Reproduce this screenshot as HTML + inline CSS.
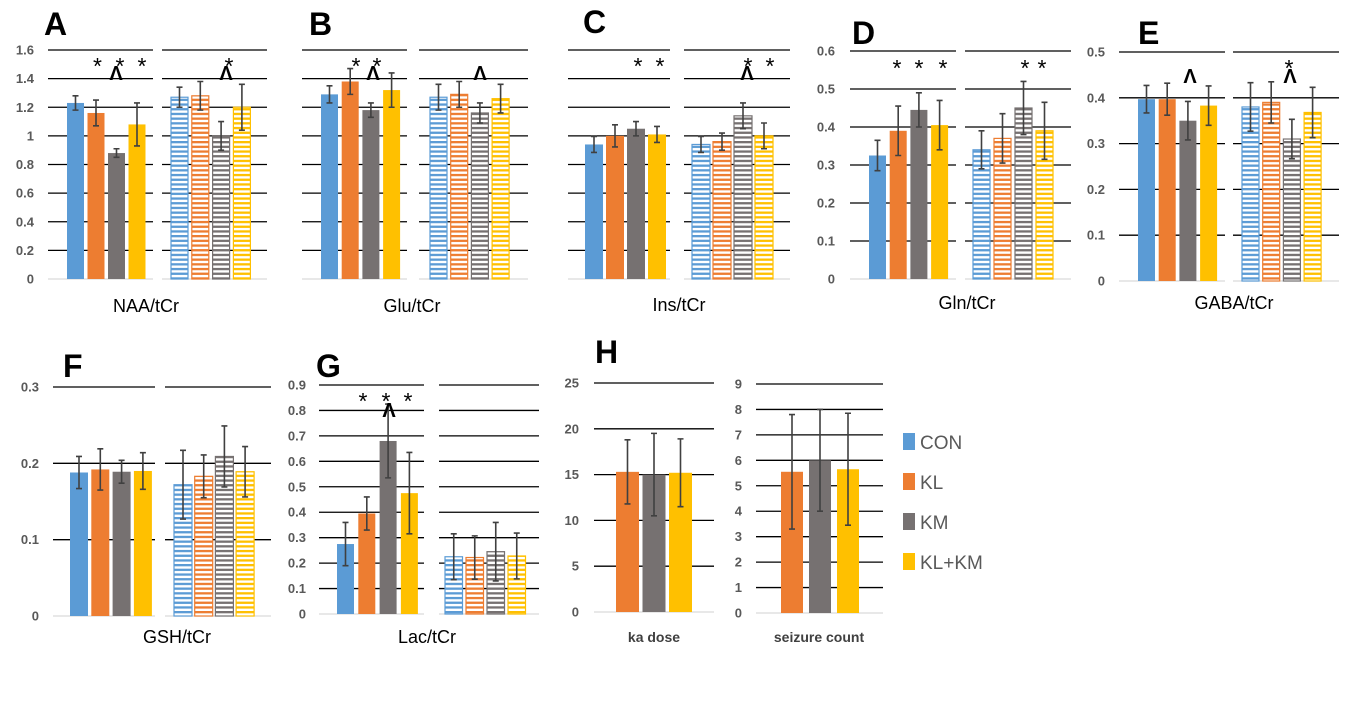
<!DOCTYPE html>
<html><head><meta charset="utf-8"><style>
html,body{margin:0;padding:0;background:#fff;}
svg{display:block;font-family:"Liberation Sans",sans-serif;}
</style></head><body>
<svg id="fig" width="1364" height="716" viewBox="0 0 1364 716" xmlns="http://www.w3.org/2000/svg">
<defs>
<pattern id="h0" width="6" height="4.7" patternUnits="userSpaceOnUse"><rect width="6" height="4.7" fill="#fff"/><rect y="0" width="6" height="2.3" fill="#5b9bd5"/></pattern>
<pattern id="h1" width="6" height="4.7" patternUnits="userSpaceOnUse"><rect width="6" height="4.7" fill="#fff"/><rect y="0" width="6" height="2.3" fill="#ed7d31"/></pattern>
<pattern id="h2" width="6" height="4.7" patternUnits="userSpaceOnUse"><rect width="6" height="4.7" fill="#fff"/><rect y="0" width="6" height="2.3" fill="#767171"/></pattern>
<pattern id="h3" width="6" height="4.7" patternUnits="userSpaceOnUse"><rect width="6" height="4.7" fill="#fff"/><rect y="0" width="6" height="2.3" fill="#ffc000"/></pattern>
</defs>
</svg>
<script>
const groups = ['CON','KL','KM','KL+KM'];
const naaPre = [1.23,1.16,0.88,1.08];   const naaPreErr = [0.05,0.09,0.03,0.15];
const naaPost = [1.27,1.28,1.0,1.2];    const naaPostErr = [0.07,0.1,0.1,0.16];
const gluPre = [1.29,1.38,1.18,1.32];   const gluPreErr = [0.06,0.09,0.05,0.12];
const gluPost = [1.27,1.29,1.16,1.26];  const gluPostErr = [0.09,0.09,0.07,0.1];
const insPre = [0.94,1.0,1.05,1.01];    const insPreErr = [0.056,0.077,0.05,0.056];
const insPost = [0.94,0.96,1.14,1.0];   const insPostErr = [0.056,0.06,0.09,0.09];
const glnPre = [0.325,0.39,0.445,0.405];  const glnPreErr = [0.04,0.065,0.045,0.065];
const glnPost = [0.34,0.37,0.45,0.39];    const glnPostErr = [0.05,0.065,0.07,0.075];
const gabaPre = [0.397,0.397,0.35,0.383]; const gabaPreErr = [0.03,0.035,0.042,0.043];
const gabaPost = [0.38,0.39,0.31,0.368];  const gabaPostErr = [0.053,0.045,0.043,0.055];
const gshPre = [0.188,0.192,0.189,0.19];  const gshPreErr = [0.021,0.027,0.015,0.024];
const gshPost = [0.172,0.183,0.209,0.189];const gshPostErr = [0.045,0.028,0.04,0.033];
const lacPre = [0.275,0.395,0.68,0.475];  const lacPreErr = [0.085,0.065,0.145,0.16];
const lacPost = [0.225,0.222,0.245,0.228];const lacPostErr = [0.09,0.085,0.115,0.09];
const kaDose = [15.3,15.0,15.2];          const kaDoseErr = [3.5,4.5,3.7];
const seizureCount = [5.55,6.0,5.65];     const seizureCountErr = [2.25,2.0,2.2];
const ticks16 = ['0','0.2','0.4','0.6','0.8','1','1.2','1.4','1.6'];
const ticks06 = ['0','0.1','0.2','0.3','0.4','0.5','0.6'];
const ticks05 = ['0','0.1','0.2','0.3','0.4','0.5'];
const ticks03 = ['0','0.1','0.2','0.3'];
const ticks09 = ['0','0.1','0.2','0.3','0.4','0.5','0.6','0.7','0.8','0.9'];
const ticks25 = ['0','5','10','15','20','25'];
const ticks9 = ['0','1','2','3','4','5','6','7','8','9'];

const NS='http://www.w3.org/2000/svg';
const svg=document.getElementById('fig');
const solid=['#5b9bd5','#ed7d31','#767171','#ffc000'];
function mk(tag,attrs,parent){const e=document.createElementNS(NS,tag);for(const k in attrs)e.setAttribute(k,attrs[k]);(parent||svg).appendChild(e);return e;}
function txt(x,y,s,attrs,parent){const t=mk('text',Object.assign({x:x,y:y},attrs),parent);t.textContent=s;return t;}

function sub(c){
  const g=mk('g',{});
  
  
  const n=c.ticks.length-1, max=parseFloat(c.ticks[n]);
  const yS=v=>c.yb-(v/max)*(c.yb-c.yt);
  for(let i=1;i<=n;i++){
    const y=yS(parseFloat(c.ticks[i]));
    const l=mk('line',{x1:c.gx0,x2:c.gx1,y1:y,y2:y,stroke:'#000','stroke-width':1.3},g);
    
    
  }
  const base=mk('line',{x1:c.gx0,x2:c.gx1,y1:c.yb,y2:c.yb,stroke:'#d9d9d9','stroke-width':1.3},g);
  
  
  if(c.tickX){
    for(let i=0;i<=n;i++){
      const t=txt(c.tickX,yS(parseFloat(c.ticks[i]))+4.5,c.ticks[i],{'text-anchor':'end','font-size':13,'font-weight':'bold',fill:'#595959'},g);
      
      
    }
  }
  c.vals.forEach((v,i)=>{
    const ci=c.offset+i;
    const x=c.bx0+i*c.pitch, y=yS(v), h=c.yb-y;
    const r=mk('rect',{x:x,y:y,width:c.bw,height:h,fill:c.hatch?'url(#h'+ci+')':solid[ci],stroke:c.hatch?solid[ci]:'none','stroke-width':1.2},g);
    
    
    const cx=x+c.bw/2, e=c.errs[i];
    const eb=mk('path',{d:`M${cx} ${yS(v+e)}V${yS(v-e)}M${cx-3} ${yS(v+e)}H${cx+3}M${cx-3} ${yS(v-e)}H${cx+3}`,stroke:'#404040','stroke-width':1.6,fill:'none'},g);
    
    
  });
}
function label(x,y,s,name){const t=txt(x,y,s,{'font-size':32,'font-weight':'bold',fill:'#000'});}
function title(x,y,s,name,sz,bold,col){const t=txt(x,y,s,{'text-anchor':'middle','font-size':sz||18,'font-weight':bold?'bold':'normal',fill:col||'#000'});}
function ann(x,y,s){
  let t;
  if(s==='^'){t=txt(x,y-4,'Λ',{'text-anchor':'middle','font-size':20,'font-weight':'bold',fill:'#000'});}
  else{t=txt(x,y+2,s,{'text-anchor':'middle','font-size':23,fill:'#000'});}
  
  
}

// A
sub({name:'naa-pre',gx0:48,gx1:153,yt:50,yb:279,ticks:ticks16,tickX:34,vals:naaPre,errs:naaPreErr,bx0:67,pitch:20.5,bw:17,offset:0});
sub({name:'naa-post',gx0:162,gx1:267,yt:50,yb:279,ticks:ticks16,vals:naaPost,errs:naaPostErr,bx0:171,pitch:20.8,bw:17,offset:0,hatch:true});
label(44,35,'A','panel-label-a'); title(146,312,'NAA/tCr','x-axis-title-naa');
ann(97.5,72,'*');ann(120,72,'*');ann(142,72,'*');ann(116,84,'^');ann(229,72,'*');ann(226,84,'^');
// B
sub({name:'glu-pre',gx0:302,gx1:407,yt:50,yb:279,ticks:ticks16,vals:gluPre,errs:gluPreErr,bx0:321,pitch:20.7,bw:17,offset:0});
sub({name:'glu-post',gx0:419,gx1:528,yt:50,yb:279,ticks:ticks16,vals:gluPost,errs:gluPostErr,bx0:430,pitch:20.7,bw:17,offset:0,hatch:true});
label(309,35,'B','panel-label-b'); title(412,312,'Glu/tCr','x-axis-title-glu');
ann(356,72,'*');ann(377,72,'*');ann(373,84,'^');ann(480,84,'^');
// C
sub({name:'ins-pre',gx0:568,gx1:670,yt:50,yb:279,ticks:ticks16,vals:insPre,errs:insPreErr,bx0:585,pitch:21,bw:18,offset:0});
sub({name:'ins-post',gx0:684,gx1:790,yt:50,yb:279,ticks:ticks16,vals:insPost,errs:insPostErr,bx0:692,pitch:21,bw:18,offset:0,hatch:true});
label(583,33,'C','panel-label-c'); title(679,311,'Ins/tCr','x-axis-title-ins');
ann(638,72,'*');ann(660,72,'*');ann(748,72,'*');ann(770,72,'*');ann(747,84,'^');
// D
sub({name:'gln-pre',gx0:850,gx1:956,yt:51,yb:279,ticks:ticks06,tickX:835,vals:glnPre,errs:glnPreErr,bx0:869,pitch:20.7,bw:17,offset:0});
sub({name:'gln-post',gx0:965,gx1:1071,yt:51,yb:279,ticks:ticks06,vals:glnPost,errs:glnPostErr,bx0:973,pitch:21,bw:17,offset:0,hatch:true});
label(852,44,'D','panel-label-d'); title(967,309,'Gln/tCr','x-axis-title-gln');
ann(897,74,'*');ann(919,74,'*');ann(943,74,'*');ann(1025,74,'*');ann(1042,74,'*');
// E
sub({name:'gaba-pre',gx0:1119,gx1:1225,yt:52,yb:281,ticks:ticks05,tickX:1105,vals:gabaPre,errs:gabaPreErr,bx0:1138,pitch:20.7,bw:17,offset:0});
sub({name:'gaba-post',gx0:1233,gx1:1339,yt:52,yb:281,ticks:ticks05,vals:gabaPost,errs:gabaPostErr,bx0:1242,pitch:20.7,bw:17,offset:0,hatch:true});
label(1138,44,'E','panel-label-e'); title(1234,309,'GABA/tCr','x-axis-title-gaba');
ann(1190,87,'^');ann(1289,74,'*');ann(1290,87,'^');
// F
sub({name:'gsh-pre',gx0:53,gx1:155,yt:387,yb:616,ticks:ticks03,tickX:39,vals:gshPre,errs:gshPreErr,bx0:70,pitch:21.3,bw:18,offset:0});
sub({name:'gsh-post',gx0:165,gx1:271,yt:387,yb:616,ticks:ticks03,vals:gshPost,errs:gshPostErr,bx0:174,pitch:20.7,bw:18,offset:0,hatch:true});
label(63,377,'F','panel-label-f'); title(177,643,'GSH/tCr','x-axis-title-gsh');
// G
sub({name:'lac-pre',gx0:319,gx1:424,yt:385,yb:614,ticks:ticks09,tickX:306,vals:lacPre,errs:lacPreErr,bx0:337,pitch:21.3,bw:17,offset:0});
sub({name:'lac-post',gx0:439,gx1:539,yt:385,yb:614,ticks:ticks09,vals:lacPost,errs:lacPostErr,bx0:445,pitch:21,bw:17.5,offset:0,hatch:true});
label(316,377,'G','panel-label-g'); title(427,643,'Lac/tCr','x-axis-title-lac');
ann(363,407,'*');ann(386,407,'*');ann(408,407,'*');ann(389,421,'^');
// H
sub({name:'ka-dose',gx0:594,gx1:714,yt:383,yb:612,ticks:ticks25,tickX:579,vals:kaDose,errs:kaDoseErr,bx0:616,pitch:26.5,bw:23,offset:1});
sub({name:'seizure-count',gx0:756,gx1:883,yt:384,yb:613,ticks:ticks9,tickX:742,vals:seizureCount,errs:seizureCountErr,bx0:781,pitch:28,bw:22,offset:1});
label(595,363,'H','panel-label-h');
title(654,642,'ka dose','x-axis-title-ka-dose',14,true,'#404040');
title(819,642,'seizure count','x-axis-title-seizure-count',14,true,'#404040');
// legend
const lg=mk('g',{});


const ly=[442,482,522,562];
groups.forEach((gname,i)=>{
  const r=mk('rect',{x:903,y:ly[i]-9,width:12,height:17,fill:solid[i]},lg);
  
  
  const t=txt(920,ly[i]+7,gname,{'font-size':19,fill:'#595959'},lg);
  
  
});
</script>
</body></html>
